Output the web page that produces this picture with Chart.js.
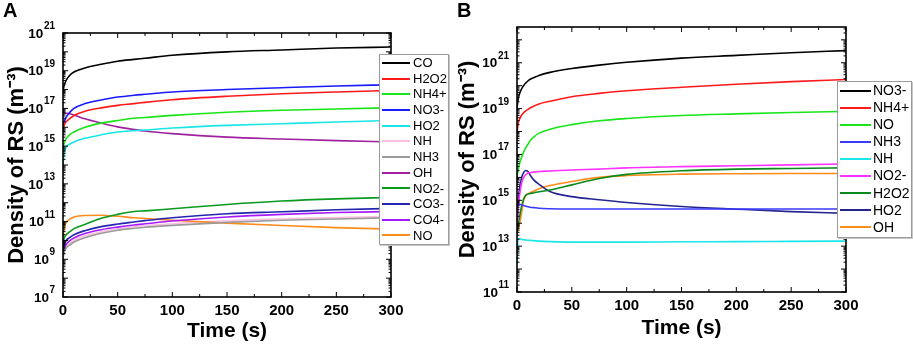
<!DOCTYPE html>
<html>
<head>
<meta charset="utf-8">
<script src="https://cdn.jsdelivr.net/npm/chart.js@4/dist/chart.umd.min.js"></script>
<style>
  body { margin: 0; background: #fff; font-family: "Liberation Sans", Arial, sans-serif; }
  #page { position: relative; width: 913px; height: 346px; overflow: hidden; }
  .panel { position: absolute; top: 0; }
  .tag { position: absolute; top: 0; font: bold 20px/20px "Liberation Sans", Arial, sans-serif; }
  .legend { position: absolute; background: #fff; border: 1px solid #9a9a9a; box-shadow: 1px 1px 0 #c8c8c8; }
  .legend .row { position: relative; white-space: nowrap; }
  .legend .swatch { position: absolute; left: 2px; height: 2px; }
  .legend .name { position: absolute; color: #000; }
</style>
</head>
<body>
<div id="page">
  <canvas id="chartA" class="panel" style="left:0" width="456" height="346"></canvas>
  <canvas id="chartB" class="panel" style="left:456px" width="457" height="346"></canvas>
  <div class="tag" style="left:3px">A</div>
  <div class="tag" style="left:457px">B</div>
  <div id="legendA" class="legend" style="left:379px; top:54px; width:68px; height:189px"></div>
  <div id="legendB" class="legend" style="left:837px; top:81px; width:73px; height:155px"></div>
</div>
<script>
// ---- panel A data ----
const timesA = [0, 1, 3, 6, 10, 20, 35, 50, 65, 75, 100, 150, 200, 250, 300];
const namesA = ['CO', 'H2O2', 'NH4+', 'NO3-', 'HO2', 'NH', 'NH3', 'OH', 'NO2-', 'CO3-', 'CO4-', 'NO'];
const colorsA = ['#000000', '#ff1a1a', '#19e619', '#1a1aff', '#19e6e6', '#ffbfe0', '#9a9a9a', '#a0209f', '#0a9a20', '#2424b0', '#a61aff', '#ff8c1a'];

const coA   = [8e17, 1.6e18, 3.2e18, 5.6e18, 8.5e18, 1.4e19, 2.2e19, 3.2e19, 4e19, 4.6e19, 6.6e19, 1e20, 1.26e20, 1.6e20, 1.8e20];
const h2o2A = [8e15, 1.26e16, 2e16, 2.8e16, 4.2e16, 7e16, 1.07e17, 1.45e17, 1.8e17, 2.1e17, 2.9e17, 4.4e17, 6e17, 7.4e17, 9.1e17];
const nh4A  = [8e14, 1.4e15, 2.5e15, 4e15, 5.6e15, 1e16, 1.66e16, 2.3e16, 3e16, 3.3e16, 4.3e16, 6.3e16, 8e16, 9.3e16, 1.1e17];
const no3A  = [8e15, 1.8e16, 3.5e16, 6e16, 1e17, 1.8e17, 2.8e17, 4e17, 5e17, 5.6e17, 7.4e17, 1e18, 1.26e18, 1.55e18, 1.8e18];
const ho2A  = [1e14, 4e14, 9e14, 1.26e15, 1.66e15, 2.6e15, 4e15, 5.6e15, 6.6e15, 7.2e15, 9.1e15, 1.26e16, 1.55e16, 1.9e16, 2.3e16];
const nhA   = [1.2e9, 2.6e9, 4.8e9, 6.7e9, 1e10, 1.7e10, 2.9e10, 4.2e10, 5.3e10, 6e10, 7.6e10, 1.1e11, 1.4e11, 1.65e11, 1.9e11];
const nh3A  = [1e9, 2.2e9, 4e9, 5.6e9, 8.3e9, 1.4e10, 2.4e10, 3.5e10, 4.4e10, 5e10, 6.3e10, 9.1e10, 1.17e11, 1.38e11, 1.6e11];
const ohA   = [5.6e16, 5.6e16, 5.5e16, 5.2e16, 4.5e16, 2.8e16, 1.66e16, 1.05e16, 7.6e15, 6.3e15, 4.6e15, 3e15, 2.4e15, 1.95e15, 1.66e15];
const no2A  = [6.3e9, 1.26e10, 2e10, 2.8e10, 4.2e10, 7e10, 1.5e11, 2.4e11, 3.4e11, 3.7e11, 4.8e11, 8.1e11, 1.23e12, 1.6e12, 1.9e12];
const co3A  = [2.5e9, 5.6e9, 1e10, 1.4e10, 2e10, 3.3e10, 5.4e10, 7.4e10, 9.5e10, 1.12e11, 1.6e11, 2.6e11, 3.3e11, 4.2e11, 5e11];
const co4A  = [1.6e9, 3.5e9, 6.3e9, 9.5e9, 1.35e10, 2.3e10, 3.7e10, 5.1e10, 6.6e10, 7.6e10, 1.07e11, 1.74e11, 2.4e11, 3e11, 3.4e11];
const noA   = [1e10, 4e10, 8.9e10, 1.3e11, 1.75e11, 2.1e11, 2.15e11, 1.9e11, 1.6e11, 1.45e11, 1.17e11, 8.3e10, 6.2e10, 4.8e10, 4e10];
const valuesA = [coA, h2o2A, nh4A, no3A, ho2A, nhA, nh3A, ohA, no2A, co3A, co4A, noA];
const yTicksA = [1e7, 1e9, 1e11, 1e13, 1e15, 1e17, 1e19, 1e21];

// ---- panel B data ----
const timesB = [0, 1, 2, 4, 6, 8, 10, 12, 15, 20, 30, 50, 75, 100, 150, 200, 250, 300];
const namesB = ['NO3-', 'NH4+', 'NO', 'NH3', 'NH', 'NO2-', 'H2O2', 'HO2', 'OH'];
const colorsB = ['#000000', '#ff1a1a', '#19e619', '#3a3aff', '#19e6e6', '#ff33ff', '#0a8a1a', '#25258f', '#ff8c1a'];

const no3B  = [1e19, 2.5e19, 4e19, 7e19, 1e20, 1.3e20, 1.6e20, 1.9e20, 2.2e20, 2.8e20, 3.8e20, 5.6e20, 7.9e20, 1.05e21, 1.6e21, 2.1e21, 2.75e21, 3.4e21];
const nh4B  = [8e17, 2.2e18, 3.2e18, 5e18, 6.6e18, 8e18, 9.3e18, 1.07e19, 1.26e19, 1.6e19, 2.1e19, 3.3e19, 4.6e19, 6e19, 8.5e19, 1.15e20, 1.5e20, 1.85e20];
const noB   = [1e16, 2e16, 3.5e16, 7e16, 1.26e17, 2e17, 2.8e17, 4e17, 5.6e17, 8.5e17, 1.26e18, 2e18, 2.95e18, 3.7e18, 5e18, 5.9e18, 6.8e18, 7.6e18];
const nh3B  = [7e14, 7e14, 6.8e14, 6.3e14, 5.9e14, 5.5e14, 5.2e14, 5e14, 4.8e14, 4.5e14, 4.3e14, 4.2e14, 4.2e14, 4.2e14, 4.2e14, 4.2e14, 4.2e14, 4.2e14];
const nhB   = [1.6e12, 2e13, 2.1e13, 2e13, 1.9e13, 1.86e13, 1.82e13, 1.78e13, 1.74e13, 1.66e13, 1.58e13, 1.5e13, 1.5e13, 1.5e13, 1.55e13, 1.58e13, 1.62e13, 1.66e13];
const no2B  = [6.3e13, 4e14, 1.26e15, 5e15, 1e16, 1.3e16, 1.5e16, 1.6e16, 1.7e16, 1.8e16, 1.9e16, 2.1e16, 2.3e16, 2.6e16, 2.95e16, 3.2e16, 3.5e16, 3.9e16];
const h2o2B = [4e13, 8e13, 1.6e14, 5e14, 1.12e15, 1.66e15, 1.86e15, 2e15, 2.1e15, 2.35e15, 2.8e15, 4.7e15, 8.9e15, 1.35e16, 1.95e16, 2.3e16, 2.45e16, 2.6e16];
const ho2B  = [5e13, 6.3e14, 2.5e15, 8.9e15, 1.6e16, 2e16, 1.8e16, 1.26e16, 8e15, 5e15, 2.4e15, 1.45e15, 1.05e15, 8e14, 5.4e14, 4.1e14, 3.2e14, 2.7e14];
const ohB   = [3.2e13, 5e13, 8e13, 2.5e14, 1e15, 1.6e15, 1.9e15, 2.1e15, 2.5e15, 3.2e15, 4.4e15, 6.6e15, 1e16, 1.2e16, 1.38e16, 1.45e16, 1.48e16, 1.48e16];
const valuesB = [no3B, nh4B, noB, nh3B, nhB, no2B, h2o2B, ho2B, ohB];
const yTicksB = [1e11, 1e13, 1e15, 1e17, 1e19, 1e21];

const timeTicks = [0, 50, 100, 150, 200, 250, 300];
const FONT = '"Liberation Sans", Arial, sans-serif';

// frame box, inward ticks on all four sides, and 10^n labels with a real superscript
const framePlugin = {
  id: 'frame',
  afterDatasetsDraw(chart, args, opts) {
    const { ctx, chartArea: a, scales: { x, y } } = chart;
    ctx.save();
    ctx.strokeStyle = '#000';
    ctx.lineWidth = 1;
    ctx.beginPath();
    for (let t = 0; t <= 300; t += 25) {
      const px = x.getPixelForValue(t);
      const len = t % 50 === 0 ? 5 : 3;
      ctx.moveTo(px, a.bottom); ctx.lineTo(px, a.bottom - len);
      ctx.moveTo(px, a.top); ctx.lineTo(px, a.top + len);
    }
    const lo = Math.floor(Math.log10(y.min));
    const hi = Math.ceil(Math.log10(y.max));
    for (let e = lo; e <= hi; e++) {
      for (let m = 1; m < 10; m++) {
        const v = m * Math.pow(10, e);
        if (v < y.min * 0.999 || v > y.max) continue;
        const py = y.getPixelForValue(v);
        const len = m === 1 ? 5 : 2.5;
        ctx.moveTo(a.left, py); ctx.lineTo(a.left + len, py);
        ctx.moveTo(a.right, py); ctx.lineTo(a.right - len, py);
      }
    }
    ctx.stroke();
    ctx.lineWidth = 1.6;
    ctx.strokeRect(a.left, a.top, a.width, a.height);

    // y tick labels
    ctx.fillStyle = '#000';
    opts.ticks.forEach((v) => {
      const py = y.getPixelForValue(v);
      const exp = String(Math.round(Math.log10(v)));
      ctx.font = 'bold 10px ' + FONT;
      const supW = ctx.measureText(exp).width;
      const right = a.left - opts.pad;
      ctx.textAlign = 'right';
      ctx.textBaseline = 'alphabetic';
      ctx.fillText(exp, right, py - 4);
      ctx.font = 'bold 13.5px ' + FONT;
      ctx.textBaseline = 'middle';
      ctx.fillText('10', right - supW - 0.5, py + 1);
    });
    ctx.restore();
  },
};

function buildLegend(el, names, colors, cfg) {
  names.forEach((name, i) => {
    const row = document.createElement('div');
    row.className = 'row';
    row.style.height = cfg.row + 'px';
    const sw = document.createElement('div');
    sw.className = 'swatch';
    sw.style.width = cfg.line + 'px';
    sw.style.top = (cfg.row / 2 - 1) + 'px';
    sw.style.background = colors[i];
    const tx = document.createElement('div');
    tx.className = 'name';
    tx.style.left = cfg.textX + 'px';
    tx.style.font = cfg.font + 'px ' + FONT;
    tx.style.lineHeight = cfg.row + 'px';
    tx.style.top = '0px';
    tx.textContent = name;
    row.appendChild(sw);
    row.appendChild(tx);
    el.appendChild(row);
  });
}

function makePanel(canvas, times, names, colors, values, yTicks, yMin, yMax, box) {
  const datasets = names.map((name, i) => ({
    label: name,
    data: times.map((t, k) => ({ x: t, y: values[i][k] })),
    borderColor: colors[i],
    backgroundColor: colors[i],
    borderWidth: 1.6,
    pointRadius: 0,
    cubicInterpolationMode: 'monotone',
    order: name === 'NH' ? 20 : i,
  }));

  return new Chart(canvas, {
    type: 'line',
    data: { datasets },
    plugins: [framePlugin],
    options: {
      responsive: false,
      animation: false,
      layout: { padding: { left: 0, right: box.right, top: box.top, bottom: 0 } },
      plugins: {
        legend: { display: false },
        tooltip: { enabled: false },
        frame: { ticks: yTicks, pad: box.ypad },
      },
      scales: {
        x: {
          type: 'linear',
          min: 0,
          max: 300,
          afterBuildTicks: (s) => { s.ticks = timeTicks.map((v) => ({ value: v })); },
          afterFit: (s) => { s.height = box.xh; },
          grid: { display: false, drawTicks: false },
          border: { display: false },
          ticks: {
            color: '#000',
            padding: box.xpad,
            maxRotation: 0,
            font: { family: FONT, size: 15, weight: 'bold' },
          },
          title: {
            display: true,
            text: 'Time (s)',
            color: '#000',
            padding: { top: 0, bottom: box.xtitle },
            font: { family: FONT, size: 21, weight: 'bold', lineHeight: 1 },
          },
        },
        y: {
          type: 'logarithmic',
          min: yMin,
          max: yMax,
          afterBuildTicks: (s) => { s.ticks = yTicks.map((v) => ({ value: v })); },
          afterFit: (s) => { s.width = box.yw; },
          grid: { display: false, drawTicks: false },
          border: { display: false },
          ticks: { display: false },
          title: {
            display: true,
            text: 'Density of RS (m⁻³)',
            color: '#000',
            padding: { top: box.ytitle, bottom: 0 },
            font: { family: FONT, size: 22, weight: 'bold', lineHeight: 1 },
          },
        },
      },
    },
  });
}

makePanel(document.getElementById('chartA'), timesA, namesA, colorsA, valuesA, yTicksA, 1e7, 1e21,
  { right: 65, top: 33, xh: 49, yw: 63, xpad: 5, ypad: 8, xtitle: 4, ytitle: 6 });
makePanel(document.getElementById('chartB'), timesB, namesB, colorsB, valuesB, yTicksB, 1e11, Math.pow(10, 22.56),
  { right: 67, top: 27, xh: 54, yw: 61, xpad: 5, ypad: 8, xtitle: 7, ytitle: 1 });

buildLegend(document.getElementById('legendA'), namesA, colorsA, { row: 15.7, line: 28, textX: 33, font: 13 });
buildLegend(document.getElementById('legendB'), namesB, colorsB, { row: 17.1, line: 31, textX: 35, font: 14 });
</script>
</body>
</html>
